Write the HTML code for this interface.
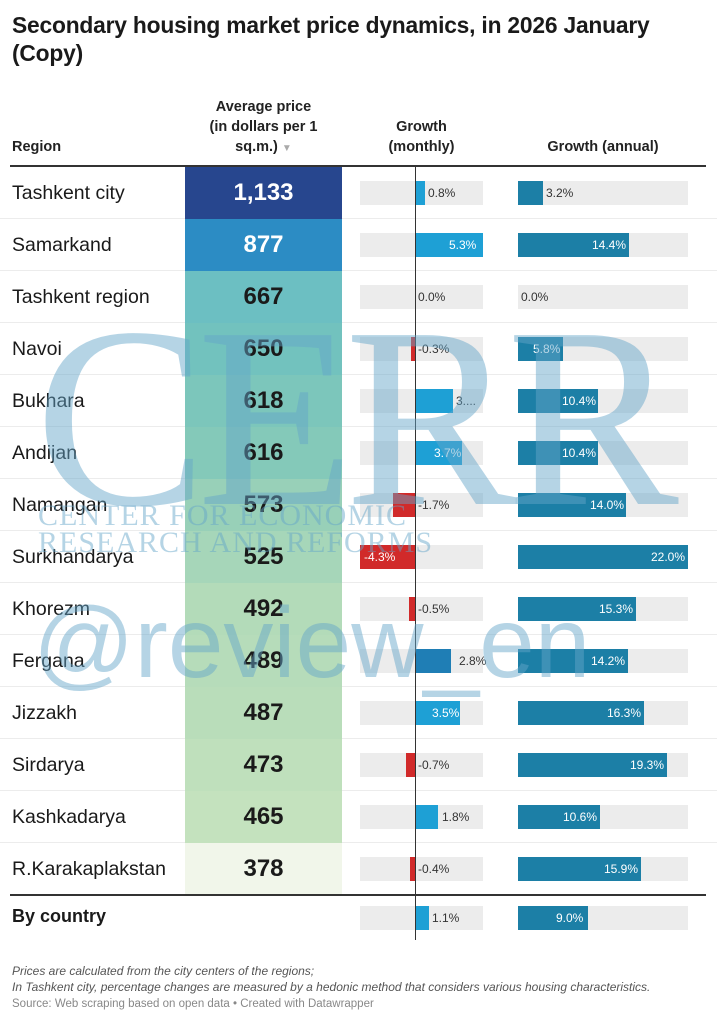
<!DOCTYPE html>
<html><head><meta charset="utf-8"><style>
*{margin:0;padding:0;box-sizing:border-box}
body{width:717px;height:1024px;background:#fff;position:relative;overflow:hidden;font-family:"Liberation Sans",Arial,sans-serif;color:#1a1a1a}
.a{position:absolute}
.t{font-size:22.8px;font-weight:bold;left:12px;line-height:28px;letter-spacing:-0.2px}
.h{font-size:14.5px;font-weight:bold;line-height:20px;color:#222;text-align:center}
.row{position:absolute;left:0;width:717px;height:52px;border-bottom:1px solid #ececec}
.rg{position:absolute;left:12px;top:15px;font-size:19.5px}
.pc{position:absolute;left:185px;width:157px;height:52px;top:0;text-align:center;font-size:24px;font-weight:bold;line-height:52px}
.bg1{position:absolute;left:360px;width:123px;top:14px;height:24px;background:#ececec}
.bg2{position:absolute;left:518px;width:170px;top:14px;height:24px;background:#ececec}
.b{position:absolute;top:14px;height:24px}
.m{background:#1ea0d5}.n{background:#d12a2a}.y{background:#1c7fa6}
.l{position:absolute;top:14px;line-height:24px;font-size:12px;color:#333}
.w{color:#fff}
.wm{color:rgba(100,165,200,0.48);white-space:nowrap}
</style></head><body>
<div class="a t" style="top:11px">Secondary housing market price dynamics, in 2026 January<br>(Copy)</div>
<div class="a h" style="left:12px;top:137px;text-align:left">Region</div>
<div class="a h" style="left:185px;width:157px;top:97px">Average price<br>(in dollars per 1<br>sq.m.) <span style="color:#aaa;font-size:10px">▼</span></div>
<div class="a h" style="left:360px;width:123px;top:117px">Growth<br>(monthly)</div>
<div class="a h" style="left:518px;width:170px;top:137px">Growth (annual)</div>
<div class="a" style="left:10px;top:165px;width:696px;height:2px;background:#333"></div>

<div class="row" style="top:167px"><div class="rg">Tashkent city</div><div class="pc" style="background:#27468e;color:#fff">1,133</div><div class="bg1"></div><div class="bg2"></div><div class="b m" style="left:415px;width:10px"></div><div class="l" style="left:428px">0.8%</div><div class="b y" style="left:518px;width:25px"></div><div class="l" style="left:546px">3.2%</div></div>
<div class="row" style="top:219px"><div class="rg">Samarkand</div><div class="pc" style="background:#2c8cc4;color:#fff">877</div><div class="bg1"></div><div class="bg2"></div><div class="b m" style="left:415px;width:68px"></div><div class="l w" style="left:449px">5.3%</div><div class="b y" style="left:518px;width:111px"></div><div class="l w" style="left:592px">14.4%</div></div>
<div class="row" style="top:271px"><div class="rg">Tashkent region</div><div class="pc" style="background:#6cbfc2">667</div><div class="bg1"></div><div class="bg2"></div><div class="l" style="left:418px">0.0%</div><div class="l" style="left:521px">0.0%</div></div>
<div class="row" style="top:323px"><div class="rg">Navoi</div><div class="pc" style="background:#72c2be">650</div><div class="bg1"></div><div class="bg2"></div><div class="b n" style="left:411px;width:4px"></div><div class="l" style="left:418px">-0.3%</div><div class="b y" style="left:518px;width:45px"></div><div class="l w" style="left:533px">5.8%</div></div>
<div class="row" style="top:375px"><div class="rg">Bukhara</div><div class="pc" style="background:#7cc6bb">618</div><div class="bg1"></div><div class="bg2"></div><div class="b m" style="left:415px;width:38px"></div><div class="l" style="left:456px">3....</div><div class="b y" style="left:518px;width:80px"></div><div class="l w" style="left:562px">10.4%</div></div>
<div class="row" style="top:427px"><div class="rg">Andijan</div><div class="pc" style="background:#84c9b9">616</div><div class="bg1"></div><div class="bg2"></div><div class="b m" style="left:415px;width:47px"></div><div class="l w" style="left:434px">3.7%</div><div class="b y" style="left:518px;width:80px"></div><div class="l w" style="left:562px">10.4%</div></div>
<div class="row" style="top:479px"><div class="rg">Namangan</div><div class="pc" style="background:#98d0b8">573</div><div class="bg1"></div><div class="bg2"></div><div class="b n" style="left:393px;width:22px"></div><div class="l" style="left:418px">-1.7%</div><div class="b y" style="left:518px;width:108px"></div><div class="l w" style="left:590px">14.0%</div></div>
<div class="row" style="top:531px"><div class="rg">Surkhandarya</div><div class="pc" style="background:#a6d6b9">525</div><div class="bg1"></div><div class="bg2"></div><div class="b n" style="left:360px;width:55px"></div><div class="l w" style="left:364px">-4.3%</div><div class="b y" style="left:518px;width:170px"></div><div class="l w" style="left:651px">22.0%</div></div>
<div class="row" style="top:583px"><div class="rg">Khorezm</div><div class="pc" style="background:#b3dbb9">492</div><div class="bg1"></div><div class="bg2"></div><div class="b n" style="left:409px;width:6px"></div><div class="l" style="left:418px">-0.5%</div><div class="b y" style="left:518px;width:118px"></div><div class="l w" style="left:599px">15.3%</div></div>
<div class="row" style="top:635px"><div class="rg">Fergana</div><div class="pc" style="background:#b6dcba">489</div><div class="bg1"></div><div class="bg2"></div><div class="b m" style="left:415px;width:36px;background:#1f7eb5"></div><div class="l" style="left:459px">2.8%</div><div class="b y" style="left:518px;width:110px"></div><div class="l w" style="left:591px">14.2%</div></div>
<div class="row" style="top:687px"><div class="rg">Jizzakh</div><div class="pc" style="background:#b9ddba">487</div><div class="bg1"></div><div class="bg2"></div><div class="b m" style="left:415px;width:45px"></div><div class="l w" style="left:432px">3.5%</div><div class="b y" style="left:518px;width:126px"></div><div class="l w" style="left:607px">16.3%</div></div>
<div class="row" style="top:739px"><div class="rg">Sirdarya</div><div class="pc" style="background:#bfe0bc">473</div><div class="bg1"></div><div class="bg2"></div><div class="b n" style="left:406px;width:9px"></div><div class="l" style="left:418px">-0.7%</div><div class="b y" style="left:518px;width:149px"></div><div class="l w" style="left:630px">19.3%</div></div>
<div class="row" style="top:791px"><div class="rg">Kashkadarya</div><div class="pc" style="background:#c4e2be">465</div><div class="bg1"></div><div class="bg2"></div><div class="b m" style="left:415px;width:23px"></div><div class="l" style="left:442px">1.8%</div><div class="b y" style="left:518px;width:82px"></div><div class="l w" style="left:563px">10.6%</div></div>
<div class="row" style="top:843px;border-bottom:none"><div class="rg">R.Karakaplakstan</div><div class="pc" style="background:#f1f6ea">378</div><div class="bg1"></div><div class="bg2"></div><div class="b n" style="left:410px;width:5px"></div><div class="l" style="left:418px">-0.4%</div><div class="b y" style="left:518px;width:123px"></div><div class="l w" style="left:604px">15.9%</div></div>
<div class="a" style="left:10px;top:894px;width:696px;height:2px;background:#333"></div>
<div class="row" style="top:892px;border-bottom:none"><div class="rg" style="font-weight:bold;font-size:18px;top:14px">By country</div><div class="bg1"></div><div class="bg2"></div><div class="b m" style="left:415px;width:14px"></div><div class="l" style="left:432px">1.1%</div><div class="b y" style="left:518px;width:70px"></div><div class="l w" style="left:556px">9.0%</div></div>

<div class="a" style="left:415px;top:167px;width:1px;height:773px;background:#333"></div>

<div class="a wm" style="left:35px;top:287px;font-family:'Liberation Serif',serif;font-size:258px;line-height:260px;letter-spacing:-10px">CERR</div>
<div class="a wm" style="left:38px;top:502px;font-family:'Liberation Serif',serif;font-size:30px;line-height:27px;letter-spacing:1px">CENTER FOR ECONOMIC<br>RESEARCH AND REFORMS</div>
<div class="a wm" style="left:33px;top:596px;font-size:100px;line-height:95px">@review_en</div>

<div class="a" style="left:12px;top:963px;font-size:12px;line-height:16px;font-style:italic;color:#555">Prices are calculated from the city centers of the regions;<br>In Tashkent city, percentage changes are measured by a hedonic method that considers various housing characteristics.</div>
<div class="a" style="left:12px;top:998px;font-size:11.5px;color:#888">Source: Web scraping based on open data • Created with Datawrapper</div>
</body></html>
